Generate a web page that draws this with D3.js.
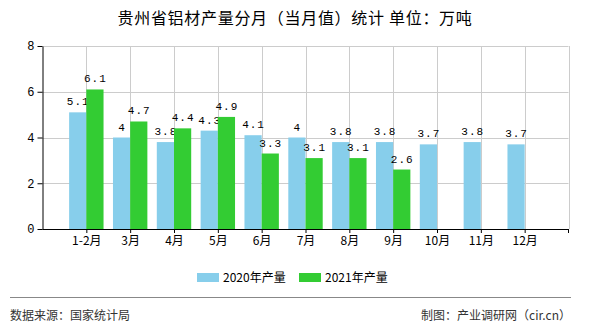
<!DOCTYPE html>
<html><head><meta charset="utf-8">
<script src="https://cdn.jsdelivr.net/npm/d3@7"></script>
<style>
html,body{margin:0;padding:0;background:#fff;}
svg{display:block;}
</style></head>
<body>
<svg id="chart" width="590" height="330"></svg>
<script>
const categories = ["1-2月","3月","4月","5月","6月","7月","8月","9月","10月","11月","12月"];
const values2020 = [5.1,4,3.8,4.3,4.1,4,3.8,3.8,3.7,3.8,3.7];
const values2021 = [6.1,4.7,4.4,4.9,3.3,3.1,3.1,2.6,null,null,null];
const seriesNames = ["2020年产量","2021年产量"];
const seriesColors = ["#87CEEB","#33CC33"];
const yTicks = [0,2,4,6,8];
const titleText = "贵州省铝材产量分月（当月值）统计 单位：万吨";
const sourceText = "数据来源：国家统计局";
const creditText = "制图：产业调研网（cir.cn）";

const svg = d3.select("#chart");
const L = 42.5, R = 568.5, T = 46, B = 229;

const xPos = d3.scaleLinear().domain([0, categories.length + 1]).range([L, R]);
const y = d3.scaleLinear().domain([0, 8]).range([B, T]);
const barW = 17.2;

const grid = svg.append("g");
yTicks.forEach(t => {
  grid.append("line").attr("x1", L).attr("x2", R).attr("y1", Math.round(y(t))+0.5).attr("y2", Math.round(y(t))+0.5)
    .attr("stroke", "#cccccc").attr("stroke-width", 1);
});
const vLines = categories.map((c,i)=>i+1).concat([categories.length+1]);
vLines.forEach(v => {
  grid.append("line").attr("x1", Math.round(xPos(v))+0.5).attr("x2", Math.round(xPos(v))+0.5).attr("y1", T).attr("y2", B)
    .attr("stroke", "#cccccc").attr("stroke-width", 1);
});

const series = [values2020, values2021];
series.forEach((vals, si) => {
  const g = svg.append("g");
  vals.forEach((v, i) => {
    if (v == null) return;
    const cx = xPos(i + 1);
    const x0 = si === 0 ? cx - barW : cx;
    g.append("rect").attr("x", x0).attr("y", y(v)).attr("width", barW).attr("height", y(0) - y(v))
      .attr("fill", seriesColors[si]);
    g.append("text").attr("x", x0 + barW/2 + 0.5).attr("y", y(v) - 7)
      .attr("text-anchor", "middle").attr("letter-spacing", 1)
      .attr("font-family", "'Liberation Mono', monospace").attr("font-size", 11)
      .attr("fill", "#000").text(v);
  });
});

const yAxis = d3.axisLeft(y).tickValues(yTicks).tickSize(5).tickSizeOuter(0).tickFormat(d3.format("d"));
const ya = svg.append("g").attr("transform", `translate(${L},0)`).call(yAxis);
ya.select(".domain").attr("stroke", "#000");
ya.selectAll(".tick line").attr("stroke", "#000");
ya.selectAll(".tick text").attr("font-family", "'Liberation Mono', monospace").attr("font-size", 12).attr("fill", "#000").attr("x", -8);

const xBand = d3.scalePoint().domain(categories).range([xPos(1), xPos(categories.length)]);
const xAxis = d3.axisBottom(xBand).tickSize(4).tickSizeOuter(0);
const xa = svg.append("g").attr("transform", `translate(0,${B})`).call(xAxis);
xa.select(".domain").remove();
xa.append("line").attr("x1", L).attr("x2", R).attr("y1", 0.5).attr("y2", 0.5).attr("stroke", "#000");
xa.append("line").attr("x1", R).attr("x2", R).attr("y1", 0).attr("y2", 4).attr("stroke", "#000");
xa.selectAll(".tick line").attr("stroke", "#000");
xa.selectAll(".tick text").attr("font-family", "'Noto Sans CJK SC', sans-serif").attr("font-size", 12).attr("fill", "#000").attr("dy", "0.85em").attr("y", 6);

svg.append("text").attr("x", 295).attr("y", 24).attr("text-anchor", "middle")
  .attr("font-family", "'Noto Sans CJK SC', sans-serif").attr("font-size", 16).attr("letter-spacing", 0.7)
  .attr("fill", "#000").text(titleText);

const legend = svg.append("g");
const legX = [197, 299];
seriesNames.forEach((n, i) => {
  legend.append("rect").attr("x", legX[i]).attr("y", 273).attr("width", 22).attr("height", 9).attr("fill", seriesColors[i]);
  legend.append("text").attr("x", legX[i] + 26).attr("y", 282).attr("font-family", "'Noto Sans CJK SC', sans-serif")
    .attr("font-size", 12).attr("fill", "#000").text(n);
});

svg.append("line").attr("x1", 10).attr("x2", 571).attr("y1", 297.5).attr("y2", 297.5).attr("stroke", "#888").attr("stroke-width", 1);
svg.append("text").attr("x", 10).attr("y", 320).attr("font-family", "'Noto Sans CJK SC', sans-serif")
  .attr("font-size", 12).attr("fill", "#333").text(sourceText);
svg.append("text").attr("x", 571).attr("y", 320).attr("text-anchor", "end").attr("font-family", "'Noto Sans CJK SC', sans-serif")
  .attr("font-size", 12).attr("fill", "#333").text(creditText);
</script>
</body></html>
